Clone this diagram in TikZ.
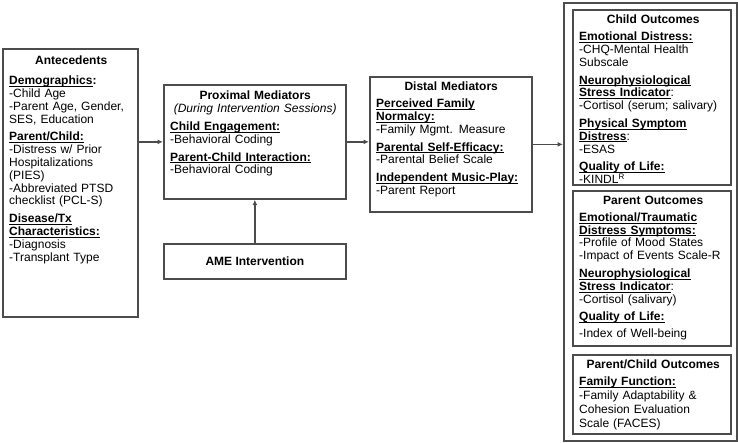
\documentclass[tikz,border=0pt]{standalone}
\usepackage{fontspec}
\setmainfont{Liberation Sans}
\usetikzlibrary{arrows.meta}

\newcommand{\hd}[1]{\underline{\smash{\textbf{#1}}}}
\newcommand{\ttl}[1]{{\centering\textbf{#1}\par}}
\newcommand{\gap}{\par\vspace{5pt}}

\begin{document}
\begin{tikzpicture}[x=1pt,y=-1pt,
    mbox/.style={draw=black!70,line width=1.7pt,inner sep=0pt,anchor=north west},
    txt/.style={anchor=north west,inner sep=0pt,text width=#1,align=left,
        font=\fontsize{12}{12.8}\selectfont},
    link/.style={draw=black!70,line width=1.4pt,-{Latex[length=5.5pt,width=5pt]}}]
    \useasboundingbox (0,0) rectangle (738,442);

    % boxes
    \node [mbox,minimum width=135pt,minimum height=268pt] (ante) at (2,48) {};
    \node [mbox,minimum width=182pt,minimum height=114pt] (prox) at (163,84) {};
    \node [mbox,minimum width=182pt,minimum height=35pt] (ame) at (163,243) {};
    \node [mbox,minimum width=162pt,minimum height=135pt] (dist) at (369,76) {};
    \node [mbox,minimum width=173pt,minimum height=438pt] (outc) at (563,2) {};
    \node [mbox,minimum width=158pt,minimum height=175pt] (child) at (572,9) {};
    \node [mbox,minimum width=158pt,minimum height=155pt] (parent) at (572,190) {};
    \node [mbox,minimum width=158pt,minimum height=79pt] (pc) at (572,354) {};

    % texts
    \node [txt=124pt] (antetext) at (9,56) {%
        \ttl{Antecedents}\vspace{7pt}
        \hd{Demographics}\textbf{:}\\
        -Child Age\\
        -Parent Age, Gender,\\
        SES, Education\gap
        \hd{Parent/Child:}\\
        -Distress w/ Prior\\
        Hospitalizations\\
        (PIES)\\
        -Abbreviated PTSD\\
        checklist (PCL-S)\gap
        \hd{Disease/Tx}\\
        \hd{Characteristics:}\\
        -Diagnosis\\
        -Transplant Type};
    \node [txt=170pt] (proxtext) at (170,91) {%
        \ttl{Proximal Mediators}
        {\centering\itshape (During Intervention Sessions)\par}\vspace{5pt}
        \hd{Child Engagement:}\\
        -Behavioral Coding\gap
        \hd{Parent-Child Interaction:}\\
        -Behavioral Coding};
    \node [font=\fontsize{12}{12.8}\selectfont\bfseries] (ametext) at (ame) {AME Intervention};
    \node [txt=150pt] (disttext) at (376,82) {%
        \ttl{Distal Mediators}\vspace{4pt}
        \hd{Perceived Family}\\
        \hd{Normalcy:}\\
        -Family Mgmt. Measure\gap
        \hd{Parental Self-Efficacy:}\\
        -Parental Belief Scale\gap
        \hd{Independent Music-Play:}\\
        -Parent Report};
    \node [txt=148pt] (childtext) at (579,15) {%
        \ttl{Child Outcomes}\vspace{4pt}
        \hd{Emotional Distress:}\\
        -CHQ-Mental Health\\
        Subscale\gap
        \hd{Neurophysiological}\\
        \hd{Stress Indicator}:\\
        -Cortisol (serum; salivary)\gap
        \hd{Physical Symptom}\\
        \hd{Distress}:\\
        -ESAS\gap
        \hd{Quality of Life:}\\
        -KINDL\textsuperscript{R}};
    \node [txt=148pt] (parenttext) at (579,196) {%
        \ttl{Parent Outcomes}\vspace{4pt}
        \hd{Emotional/Traumatic}\\
        \hd{Distress Symptoms:}\\
        -Profile of Mood States\\
        -Impact of Events Scale-R\gap
        \hd{Neurophysiological}\\
        \hd{Stress Indicator}:\\
        -Cortisol (salivary)\gap
        \hd{Quality of Life:}\par\vspace{4pt}
        -Index of Well-being};
    \node [txt=148pt] (pctext) at (579,360) {%
        \ttl{Parent/Child Outcomes}\vspace{4pt}
        \hd{Family Function:}\\[1pt]
        -Family Adaptability \&\\[1pt]
        Cohesion Evaluation\\[1pt]
        Scale (FACES)};

    % arrows
    \draw [link] (ante.east |- prox.west) -- (prox.west);
    \draw [link] (prox.east) -- (prox.east -| dist.west);
    \draw [link] (dist.east) -- (dist.east -| outc.west);
    \draw [link] (ame.north) -- (prox.south);
\end{tikzpicture}
\end{document}
